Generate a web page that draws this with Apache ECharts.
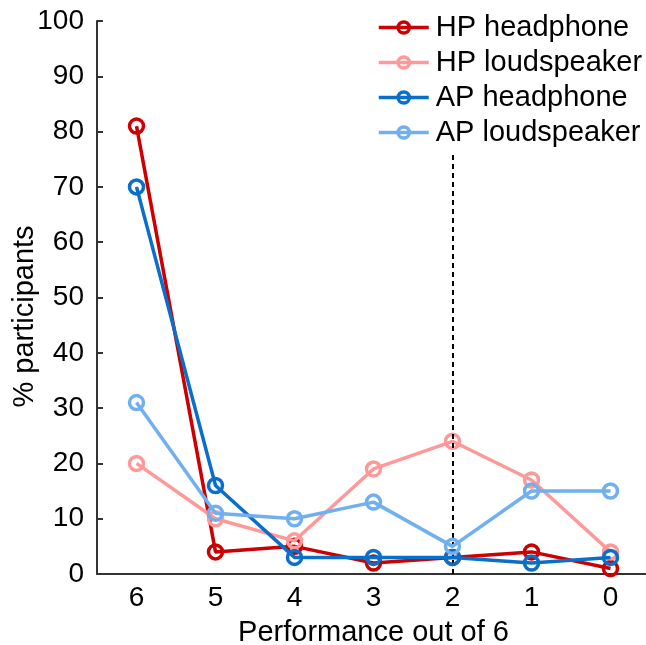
<!DOCTYPE html>
<html>
<head>
<meta charset="utf-8">
<script src="https://cdn.jsdelivr.net/npm/echarts@6/dist/echarts.min.js"></script>
<style>
  html, body { margin: 0; padding: 0; background: #fff; }
  #chart { width: 646px; height: 645px; }
</style>
</head>
<body>
<div id="chart"></div>
<script>
// performance score, reversed (6 -> 0)
const scores = ['6', '5', '4', '3', '2', '1', '0'];
const seriesNames = ['HP headphone', 'HP loudspeaker', 'AP headphone', 'AP loudspeaker'];
const hpHeadphone = [81, 4, 5, 2, 3, 4, 1];
const hpLoudspeaker = [20, 10, 6, 19, 24, 17, 4];
const apHeadphone = [70, 16, 3, 3, 3, 2, 3];
const apLoudspeaker = [31, 11, 10, 13, 5, 15, 15];
const yTicks = [0, 10, 20, 30, 40, 50, 60, 70, 80, 90, 100];
const thresholdScore = '2';
const thresholdTop = 76.5;

const colors = ['#cc0000', '#ff9999', '#0a6fc8', '#70b0f0'];
const allData = [hpHeadphone, hpLoudspeaker, apHeadphone, apLoudspeaker];

const chart = echarts.init(document.getElementById('chart'));

const series = allData.map((d, i) => ({
  name: seriesNames[i],
  type: 'line',
  data: d,
  symbol: 'circle',
  symbolSize: 14,
  z: 3 + i,
  lineStyle: { color: colors[i], width: 3.5 },
  itemStyle: { color: 'transparent', borderColor: colors[i], borderWidth: 3.5 },
  emphasis: { disabled: true }
}));

// dashed vertical line at score 2
series[0].markLine = {
  silent: true,
  symbol: 'none',
  label: { show: false },
  lineStyle: { color: '#000', type: [5, 4], width: 2 },
  data: [[{ coord: [thresholdScore, 0] }, { coord: [thresholdScore, thresholdTop] }]]
};

const option = {
  animation: false,
  textStyle: { fontFamily: 'Arial, "Liberation Sans", sans-serif' },
  grid: { left: 97, right: -4, top: 21, bottom: 71, outerBoundsMode: 'none' },
  legend: {
    orient: 'vertical',
    left: 372,
    top: 8,
    itemWidth: 50,
    itemHeight: 14,
    itemGap: 6,
    data: seriesNames,
    textStyle: { fontSize: 29, color: '#000', padding: [0, 0, 0, 2] },
    itemStyle: { borderWidth: 3.5 },
    lineStyle: { width: 3.5 }
  },
  xAxis: {
    type: 'category',
    data: scores,
    boundaryGap: true,
    name: 'Performance out of 6',
    nameLocation: 'middle',
    nameGap: 44,
    nameMoveOverlap: false,
    nameTextStyle: { fontSize: 29, color: '#000' },
    axisLine: { lineStyle: { color: '#333', width: 2 } },
    axisTick: { alignWithLabel: true, length: 6, lineStyle: { color: '#333', width: 2 } },
    axisLabel: { fontSize: 28, color: '#000', margin: 10 },
    splitLine: { show: false }
  },
  yAxis: {
    type: 'value',
    min: yTicks[0],
    max: yTicks[yTicks.length - 1],
    interval: 10,
    name: '% participants',
    nameLocation: 'middle',
    nameGap: 58,
    nameMoveOverlap: false,
    nameTextStyle: { fontSize: 29, color: '#000', padding: [0, 38, 0, 0] },
    axisLine: { show: true, lineStyle: { color: '#333', width: 2 } },
    axisTick: { show: true, inside: true, length: 6, lineStyle: { color: '#333', width: 2 } },
    axisLabel: { fontSize: 28, color: '#000', margin: 13 },
    splitLine: { show: false }
  },
  series: series
};

chart.setOption(option);
window.addEventListener('resize', () => chart.resize());
</script>
</body>
</html>
